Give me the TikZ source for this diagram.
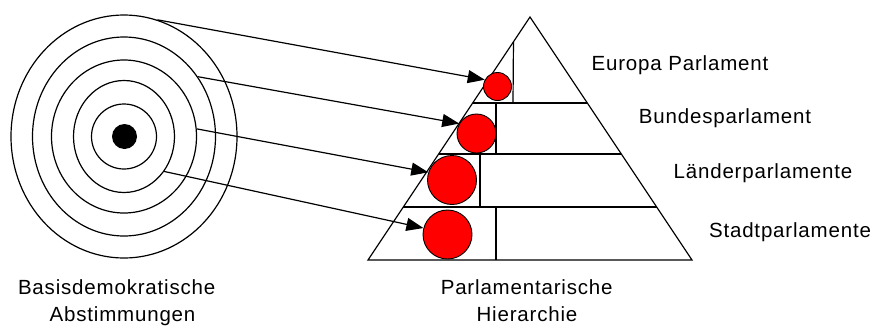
\documentclass[tikz,border=0pt]{standalone}
\usepackage{fontspec}
\setmainfont{Liberation Sans}
\newfontfamily\pixfont[LetterSpace=4]{Liberation Sans}
\usetikzlibrary{shapes.geometric,arrows.meta,calc}

\begin{document}
\begin{tikzpicture}[
  x=1pt, y=-1pt,
  ring/.style={draw, ellipse, inner sep=0pt, line width=1.2pt},
  seat/.style={draw, circle, inner sep=0pt, fill=red, line width=0.9pt},
  link/.style={-{Triangle[length=17pt, width=13pt]}, line width=1.2pt},
  tier/.style={line width=1.2pt},
  caption/.style={font=\pixfont\fontsize{20.5}{24}\selectfont, anchor=base,
                  inner sep=0pt},
]
  \useasboundingbox (0,0) rectangle (875,327);

  % the votes, ring by ring
  \node[ring, minimum width=226pt, minimum height=243pt] (r1) at (124,136.5) {};
  \node[ring, minimum width=183pt, minimum height=199pt] (r2) at (124,136.5) {};
  \node[ring, minimum width=145pt, minimum height=153pt] (r3) at (124,136.5) {};
  \node[ring, minimum width=101pt, minimum height=112pt] (r4) at (124,136.5) {};
  \node[ring, minimum width=65pt, minimum height=65pt] (r5) at (124,136.5) {};
  \node[circle, fill=black, inner sep=0pt, minimum size=25pt] (dot) at (124.5,136.5) {};

  % the pyramid
  \coordinate (apex) at (530,17);
  \coordinate (bl) at (368,260);
  \coordinate (br) at (692,260);
  \draw[tier] (apex) -- (bl) -- (br) -- cycle;

  \coordinate (bu-l) at ($(apex)!0.354!(bl)$);
  \coordinate (bu-r) at ($(apex)!0.354!(br)$);
  \coordinate (la-l) at ($(apex)!0.564!(bl)$);
  \coordinate (la-r) at ($(apex)!0.564!(br)$);
  \coordinate (st-l) at ($(apex)!0.782!(bl)$);
  \coordinate (st-r) at ($(apex)!0.782!(br)$);
  \draw[tier] (bu-l) -- (bu-r);
  \draw[tier] (la-l) -- (la-r);
  \draw[tier] (st-l) -- (st-r);

  \draw[tier] ($(apex)!0.102!(bl)$) -- (513,103);
  \draw[tier] (496,103) -- (496,154);
  \draw[tier] (480,154) -- (480,207);
  \draw[tier] (496,207) -- (496,260);

  % seats
  \node[seat, minimum size=28pt] (eu) at (497.5,86.5) {};
  \node[seat, minimum size=39pt] (bund) at (476.5,133.5) {};
  \node[seat, minimum size=49pt] (land) at (452,180) {};
  \node[seat, minimum size=49pt] (stadt) at (447.5,234.5) {};

  \draw[link] (r1.74) -- (eu.152);
  \draw[link] (r2.39) -- (bund.150);
  \draw[link] (r3.6) -- (land.162);
  \draw[link] (r4.-41) -- (stadt.165);

  % labels
  \node[caption] (eu-lbl) at (680,70) {Europa Parlament};
  \node[caption] (bu-lbl) at (725,123) {Bundesparlament};
  \node[caption] (la-lbl) at (763,178) {Länderparlamente};
  \node[caption] (st-lbl) at (790,237) {Stadtparlamente};

  \node[caption] (basis) at (116.7,294) {Basisdemokratische};
  \node[caption] (abst) at (122.5,321.5) {Abstimmungen};
  \node[caption] (parl) at (526.7,294) {Parlamentarische};
  \node[caption] (hier) at (527,321.5) {Hierarchie};
\end{tikzpicture}
\end{document}
